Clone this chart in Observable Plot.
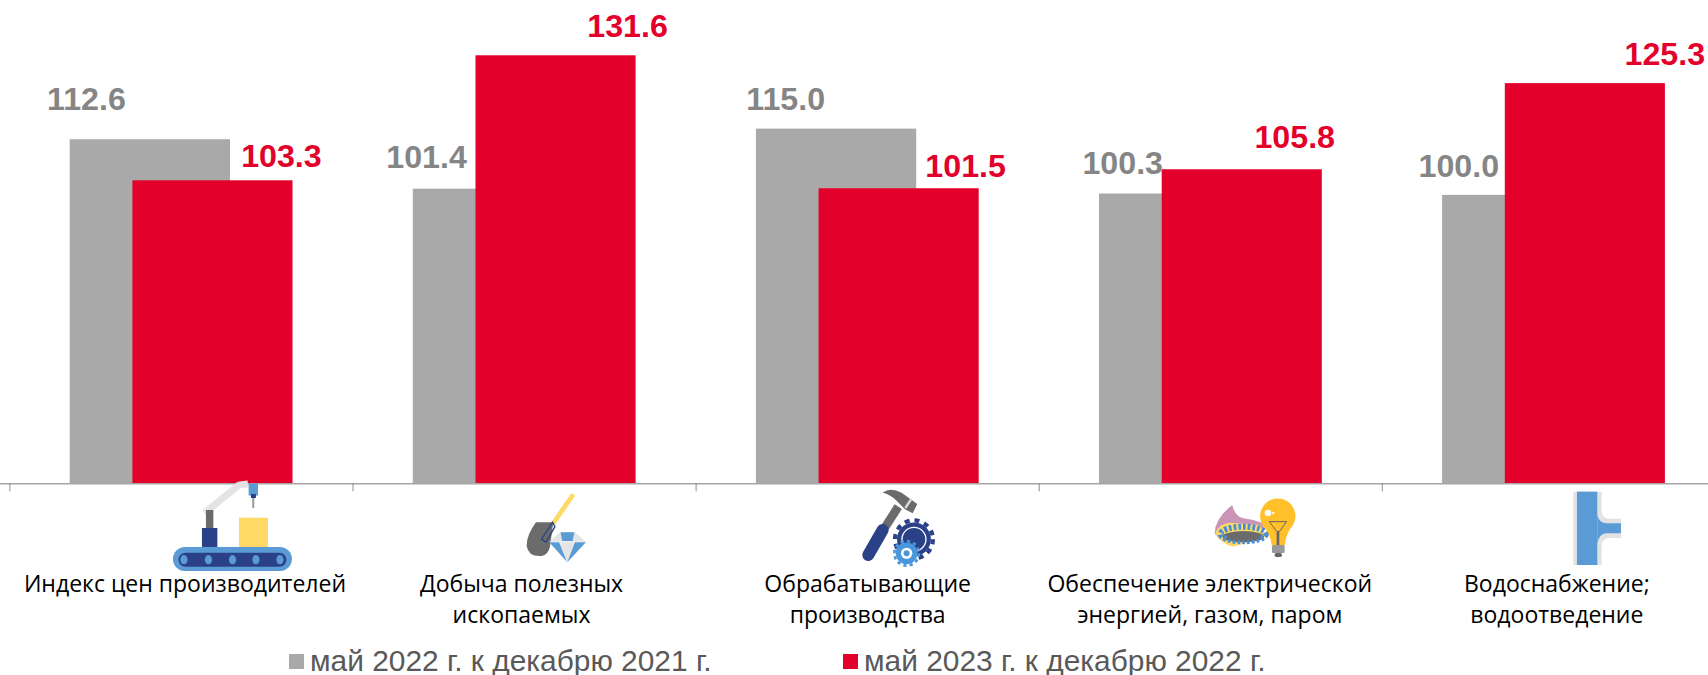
<!DOCTYPE html>
<html lang="ru"><head><meta charset="utf-8">
<style>
html,body{margin:0;padding:0;background:#fff;overflow:hidden}
#legend{position:relative;height:35px;width:1708px;font:29.9px "Liberation Sans",sans-serif;color:#595959}
#legend i{position:absolute;top:14px;width:15px;height:15px}
#legend span{position:absolute;top:7px;line-height:28px;white-space:nowrap}
</style>
<script src="https://cdn.jsdelivr.net/npm/d3@7"></script>
<script src="https://cdn.jsdelivr.net/npm/@observablehq/plot@0.6"></script>
</head><body>
<div id="chart"></div>
<div id="legend"></div>
<script>
const categories = ["Индекс цен производителей","Добыча полезных\nископаемых","Обрабатывающие\nпроизводства","Обеспечение электрической\nэнергией, газом, паром","Водоснабжение;\nводоотведение"];
const series2022 = [112.6,101.4,115.0,100.3,100.0];
const series2023 = [103.3,131.6,101.5,105.8,125.3];
const legendLabels = ["май 2022 г. к декабрю 2021 г.","май 2023 г. к декабрю 2022 г."];
const yMin = 34.7, yMax = 131.6;

// label placement, px relative to band centre / bar top
const dx2022 = [-95,-98,-82,-88,-95], dy2022 = [-30,-21,-19,-20,-18];
const dx2023 = [100,103,98,84,111],  dy2023 = [-14,-19,-12,-21.5,-19];
const dxCategory = [3.5,-3,0,-1,3];

const GREY="#a9a9a9", RED="#e3002b", LABELGREY="#858585";
const NAVY="#2a4187", BLUE="#5b9bd5", YEL="#ffd966", DK="#6b6b6b", LT="#e4e4e4";

const rows = s => categories.map((c,i)=>({c,v:s[i],i}));
const bars = (s,fill,insetLeft,insetRight)=>Plot.rectY(rows(s),{x:"c",y1:()=>yMin,y2:"v",fill,insetLeft,insetRight});
const labels = (s,fill,dxs,dys)=>rows(s).map(r=>Plot.text([r],{x:"c",y:"v",text:d=>d.v.toFixed(1),fill,dx:dxs[r.i],dy:dys[r.i],lineAnchor:"bottom",textAnchor:"middle",fontFamily:"Liberation Sans",fontWeight:700,fontSize:32.2}));
const categoryLabels = categories.map((c,i)=>Plot.text([c],{x:d=>d,y:()=>yMin,text:d=>d,dx:dxCategory[i],dy:85,lineAnchor:"top",textAnchor:"middle",fontFamily:"Open Sans",fontSize:23,lineHeight:1.39,fill:"#000"}));

const gear=(cx,cy,r,t,col)=>`<circle cx="${cx}" cy="${cy}" r="${r*.82}" fill="${col}"/><circle cx="${cx}" cy="${cy}" r="${r*.92}" fill="none" stroke="${col}" stroke-width="${r*.2}" stroke-dasharray="${(2*Math.PI*r*.92/t/2).toFixed(2)}"/>`;
const icons = [
 {ox:0,oy:0,s:1,svg:`<polyline points="23.5,30 58,2 67,1" fill="none" stroke="${LT}" stroke-width="7"/>
  <rect x="25" y="27" width="7.4" height="18" fill="${DK}"/><rect x="21" y="45" width="15.4" height="19" fill="${NAVY}"/>
  <rect x="58" y="34.7" width="29" height="29.3" fill="${YEL}"/>
  <rect x="71.3" y="14" width="2" height="11" fill="#999"/><rect x="67.7" y="0.5" width="9.3" height="12" fill="${BLUE}"/><rect x="70" y="11" width="5" height="4" fill="${NAVY}"/>
  <rect x="-8" y="64" width="119" height="24" rx="12" fill="${BLUE}"/><rect x="-2.5" y="69.7" width="108" height="14" rx="7" fill="${NAVY}"/>
  ${[3,27.5,51.6,75,99].map(x=>`<ellipse cx="${x}" cy="76.7" rx="3.6" ry="4.6" fill="${BLUE}"/>`).join("")}`},
 {ox:-14.1,oy:2,s:1/3,svg:`<line x1="190" y1="28" x2="130" y2="115" stroke="${YEL}" stroke-width="14"/>
  <path d="M130 112 L78 112 Q50 150 50 182 Q55 216 95 213 Q115 208 120 185 Z" fill="${DK}"/>
  <path d="M128 112 L95 162 L108 172 L135 125 Z" fill="none" stroke="${NAVY}" stroke-width="4"/>
  <path d="M150 142 L195 142 L228 170 L118 170 Z" fill="${LT}"/><path d="M152 142 L193 142 L188 168 L157 168 Z" fill="${BLUE}"/>
  <path d="M118 172 L148 172 L172 232 Z" fill="${BLUE}"/><path d="M148 172 L195 172 L172 232 Z" fill="${LT}"/><path d="M195 172 L228 172 L172 232 Z" fill="${BLUE}"/>`},
 {ox:-27.2,oy:-3,s:1/3,svg:`<line x1="175" y1="80" x2="130" y2="150" stroke="${DK}" stroke-width="26"/>
  <path d="M128 38 Q150 20 185 38 L232 72 L218 100 L195 88 L170 62 Q150 42 128 38 Z" fill="${DK}"/>
  <line x1="215" y1="56" x2="196" y2="84" stroke="#ddd" stroke-width="7"/>
  <line x1="128" y1="150" x2="85" y2="225" stroke="${NAVY}" stroke-width="36" stroke-linecap="round"/>
  ${gear(222,178,62,12,NAVY)}<circle cx="222" cy="178" r="36" fill="none" stroke="#fff" stroke-width="4"/>
  ${gear(200,220,40,12,"#4a96da")}<circle cx="200" cy="220" r="17" fill="#fff"/><circle cx="200" cy="220" r="9" fill="#4a96da"/>`},
 {ox:-10.3,oy:7,s:1/3,svg:`<path d="M44 130 Q45 85 97 45 Q105 80 130 85 Q160 88 190 100 L190 140 L60 150 Z" fill="#c994b5"/>
  <path d="M46 128 Q60 100 90 98 L180 105 L200 140 L100 170 Q60 160 46 128 Z" fill="${YEL}"/>
  <ellipse cx="130" cy="140" rx="62" ry="17" fill="${DK}"/>
  <ellipse cx="130" cy="132" rx="68" ry="22" fill="none" stroke="#4a8fd6" stroke-width="18" stroke-dasharray="8 6"/>
  <ellipse cx="130" cy="142" rx="50" ry="10" fill="${DK}"/>
  <path d="M215 165 Q212 135 195 115 A53 53 0 1 1 272 115 Q258 135 255 165 Z" fill="#ffc02a"/>
  <path d="M208 95 L260 95 L238 125 L231 125 Z" fill="none" stroke="#666" stroke-width="3"/><rect x="230" y="125" width="8" height="40" fill="#666"/>
  <rect x="216" y="165" width="38" height="24" rx="4" fill="#999"/><rect x="224" y="189" width="22" height="12" rx="5" fill="#666"/>
  <circle cx="204" cy="69" r="10" fill="#fff"/><circle cx="220" cy="69" r="3.5" fill="#fff"/>`},
 {ox:6.6,oy:-3,s:1/3,svg:`<rect x="40" y="35" width="85" height="220" fill="#e2e2e2"/>
  <path d="M125 88 Q125 116 145 116 L183 116 L183 174 L145 174 Q125 174 125 205 Z" fill="#e2e2e2"/>
  <rect x="51" y="35" width="61" height="220" fill="${BLUE}"/>
  <path d="M112 105 Q118 130 140 130 L183 130 L183 160 L140 160 Q118 160 112 190 Z" fill="${BLUE}"/>`}
];
const iconMark = (index,{x},values,dims,ctx)=>{
  const g=ctx.document.createElementNS("http://www.w3.org/2000/svg","g");
  g.innerHTML=icons.map((ic,i)=>`<g transform="translate(${x(categories[i])+x.bandwidth()/2+ic.ox},${483+ic.oy}) scale(${ic.s})">${ic.svg}</g>`).join("");
  return g;
};

const chart = Plot.plot({
  width:1708,height:640,marginTop:0,marginRight:0,marginLeft:0,marginBottom:156.7,
  style:{background:"#fff",overflow:"hidden"},
  x:{domain:categories,range:[9.4,1724.9],padding:0,round:false,axis:null},
  y:{domain:[yMin,yMax],range:[483.3,55.3],axis:null},
  marks:[
    bars(series2022,GREY,60.3,122.5),
    bars(series2023,RED,123,60),
    Plot.ruleY([yMin],{stroke:"#a6a6a6",strokeWidth:1.5}),
    Plot.ruleX(categories,{x:d=>d,dx:-171.55,y1:()=>yMin,y2:()=>yMin-8/4.417,stroke:"#8c8c8c",strokeWidth:1}),
    ...labels(series2022,LABELGREY,dx2022,dy2022),
    ...labels(series2023,RED,dx2023,dy2023),
    iconMark,
    ...categoryLabels
  ]
});
document.getElementById("chart").appendChild(chart);
chart.style.display="block";

const lg=document.getElementById("legend");
[[GREY,289,310],[RED,843,864]].forEach(([c,a,b],i)=>{
  const m=document.createElement("i");m.style.cssText=`left:${a}px;background:${c}`;lg.appendChild(m);
  const s=document.createElement("span");s.style.left=b+"px";s.textContent=legendLabels[i];lg.appendChild(s);
});
</script>
</body></html>
